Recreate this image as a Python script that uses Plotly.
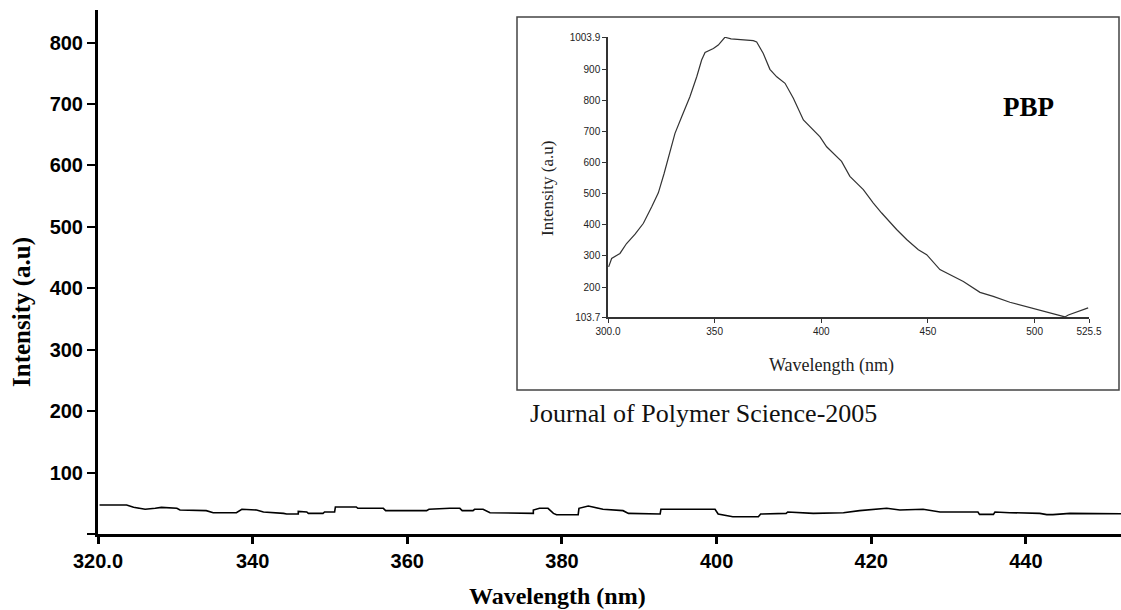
import plotly.graph_objects as go

# ---------------- main spectrum (step-like, nearly flat) ----------------
main_wl = [320.2, 323.7, 324.6, 326.1, 327.4, 328.2, 330.2, 330.6, 334.0, 334.9,
           337.9, 338.6, 340.5, 341.4, 344.0, 344.4, 345.9, 345.9, 347.0, 347.2,
           349.1, 349.3, 350.6, 350.7, 353.4, 353.6, 356.9, 357.2, 362.5, 362.8,
           365.5, 366.8, 367.1, 368.5, 368.7, 369.8, 370.7, 376.3, 376.3, 377.1,
           378.2, 378.9, 379.3, 382.1, 382.2, 383.4, 384.0, 385.3, 387.9, 388.6,
           392.7, 392.8, 399.8, 400.2, 402.1, 405.4, 405.7, 409.0, 409.2, 412.5,
           416.4, 418.5, 422.0, 423.7, 426.7, 428.9, 433.8, 434.0, 435.8, 436.0,
           437.9, 441.8, 442.7, 443.5, 445.7, 452.3]
main_int = [47.2, 47.2, 43.4, 40.2, 42.0, 43.4, 41.8, 39.0, 38.0, 34.7,
            34.7, 40.2, 39.0, 35.8, 33.6, 32.5, 32.5, 36.9, 35.8, 33.6,
            33.6, 35.8, 35.8, 44.0, 44.0, 41.8, 41.8, 38.0, 38.0, 40.2,
            41.8, 41.8, 38.0, 38.0, 40.2, 40.2, 34.7, 33.6, 39.0, 41.8,
            41.8, 33.6, 31.4, 31.4, 41.8, 45.6, 44.0, 40.2, 38.0, 33.6,
            32.5, 40.2, 40.2, 32.5, 28.2, 28.2, 32.5, 33.6, 35.8, 33.6,
            34.7, 38.0, 41.8, 39.0, 40.2, 35.8, 35.8, 32.0, 32.0, 35.8,
            34.7, 33.6, 31.5, 31.5, 33.6, 33.0]

main_yticks = [0, 100, 200, 300, 400, 500, 600, 700, 800]
main_ytext = ["", "100", "200", "300", "400", "500", "600", "700", "800"]
main_xticks = [320, 340, 360, 380, 400, 420, 440]
main_xtext = ["320.0", "340", "360", "380", "400", "420", "440"]

# ---------------- inset spectrum (PBP) ----------------
inset_wl = [300.3, 301.7, 305.6, 308.7, 312.7, 316.6, 320.5, 323.6, 326.3, 328.8,
            331.4, 334.5, 338.4, 341.6, 343.9, 345.5, 349.4, 351.7, 354.8, 357.7,
            363.4, 368.1, 369.7, 372.8, 375.9, 379.1, 383.0, 386.9, 391.6, 394.7,
            399.4, 402.5, 405.6, 409.5, 413.4, 419.7, 424.4, 428.3, 435.3, 440.0,
            445.5, 449.4, 455.6, 461.9, 466.6, 474.4, 480.6, 488.4, 496.3, 502.5,
            508.7, 514.2, 515.8, 520.5, 525.1]
inset_int = [265, 292, 308, 340, 370, 405, 458, 503, 565, 630,
             694, 747, 812, 876, 930, 954, 967, 978, 1003, 998,
             996, 992, 988, 951, 900, 876, 855, 807, 737, 715,
             683, 651, 631, 604, 556, 513, 470, 438, 385, 353,
             320, 304, 256, 234, 218, 183, 170, 151, 136, 125,
             115, 104, 110, 122, 133]

inset_yticks = [103.7, 200, 300, 400, 500, 600, 700, 800, 900, 1003.9]
inset_ytext = ["103.7", "200", "300", "400", "500", "600", "700", "800", "900", "1003.9"]
inset_xticks = [300, 350, 400, 450, 500, 525.5]
inset_xtext = ["300.0", "350", "400", "450", "500", "525.5"]

W, H = 1121, 610
L, R, T, B = 98, 0, 10, 76
pw, ph = W - L - R, H - T - B


def px(x):
    return (x - L) / pw


def py(y):
    return (H - B - y) / ph


fig = go.Figure()
fig.add_trace(go.Scatter(x=main_wl, y=main_int, mode="lines",
                         line=dict(color="black", width=1.6), showlegend=False,
                         xaxis="x", yaxis="y"))
fig.add_trace(go.Scatter(x=inset_wl, y=inset_int, mode="lines",
                         line=dict(color="#333333", width=1.2), showlegend=False,
                         xaxis="x2", yaxis="y2"))

bold_sans = dict(family="Liberation Sans, Arial, sans-serif", size=20, color="black", weight="bold")
inset_font = dict(family="Liberation Sans, Arial, sans-serif", size=10, color="#222222")

fig.update_layout(
    width=W, height=H, autosize=False,
    margin=dict(l=L, r=R, t=T, b=B, pad=0, autoexpand=False),
    paper_bgcolor="white", plot_bgcolor="white",
    xaxis=dict(range=[320, 452.3], domain=[0, 1], showgrid=False, zeroline=False,
               automargin=False,
               showline=True, linecolor="black", linewidth=3,
               ticks="outside", ticklen=7, tickwidth=2.5, tickcolor="black",
               tickvals=main_xticks, ticktext=main_xtext, tickfont=bold_sans),
    yaxis=dict(range=[0, 853], domain=[0, 1], showgrid=False, zeroline=False,
               automargin=False,
               showline=True, linecolor="black", linewidth=3,
               ticks="outside", ticklen=8, tickwidth=2, tickcolor="black",
               tickvals=main_yticks, ticktext=main_ytext, tickfont=bold_sans),
    xaxis2=dict(range=[300, 525.5], domain=[px(608), px(1089)], anchor="y2",
                automargin=False,
                showgrid=False, zeroline=False, showline=True, linecolor="#333333",
                linewidth=1.5, ticks="outside", ticklen=4, tickwidth=1, tickcolor="#333333",
                tickvals=inset_xticks, ticktext=inset_xtext, tickfont=inset_font),
    yaxis2=dict(range=[103.7, 1003.9], domain=[py(317), py(37)], anchor="x2",
                automargin=False,
                showgrid=False, zeroline=False, showline=True, linecolor="#333333",
                linewidth=1.5, ticks="outside", ticklen=4, tickwidth=1, tickcolor="#333333",
                tickvals=inset_yticks, ticktext=inset_ytext, tickfont=inset_font),
)

# inset frame
fig.add_shape(type="rect", xref="paper", yref="paper",
              x0=px(517), x1=px(1119), y0=py(390), y1=py(17),
              line=dict(color="#444444", width=1.5), fillcolor="rgba(0,0,0,0)")

serif = "Liberation Serif, Times New Roman, serif"
ann = [
    dict(text="<b>Intensity (a.u)</b>", x=px(22), y=py(312), textangle=-90,
         font=dict(family=serif, size=25, color="black")),
    dict(text="<b>Wavelength (nm)</b>", x=px(557), y=py(596),
         font=dict(family=serif, size=24, color="black")),
    dict(text="Intensity (a.u)", x=px(547), y=py(189), textangle=-90,
         font=dict(family=serif, size=17, color="#222222")),
    dict(text="Wavelength (nm)", x=px(831), y=py(365),
         font=dict(family=serif, size=18, color="#222222")),
    dict(text="<b>PBP</b>", x=px(1028), y=py(107),
         font=dict(family=serif, size=27, color="black")),
    dict(text="Journal of Polymer Science-2005", x=px(528), y=py(413), xanchor="left",
         font=dict(family=serif, size=26, color="#111111")),
]
for a in ann:
    a.setdefault("xanchor", "center")
    fig.add_annotation(xref="paper", yref="paper", showarrow=False, yanchor="middle", **a)

# remove the default 8px page margin so the figure fills the 1121x610 window exactly
fig.write_html("out.html", config={"displayModeBar": False, "responsive": False},
               post_script="document.body.style.margin='0';document.body.style.overflow='hidden';")
